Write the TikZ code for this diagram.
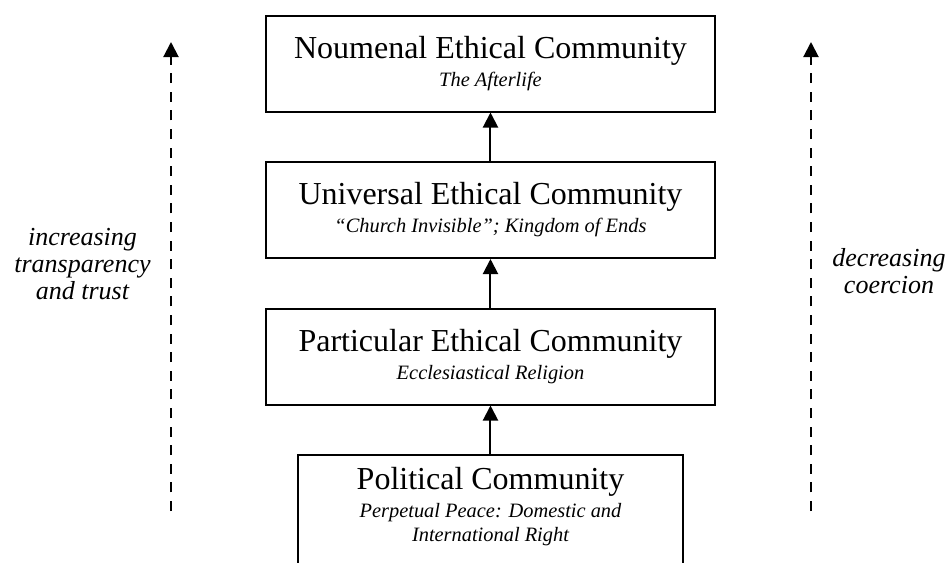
\documentclass[tikz,border=0pt]{standalone}
\usepackage{fontspec}
\setmainfont{Liberation Serif}
\usetikzlibrary{arrows.meta, positioning}

\newcommand{\stagename}[1]{{\fontsize{16}{14}\selectfont #1}}
\newcommand{\stagenote}[1]{{\fontsize{10.2}{12}\selectfont\itshape #1}}

\begin{document}
\begin{tikzpicture}[
    stage/.style={draw, line width=1pt, minimum width=224.5pt,
                  minimum height=48pt, align=center, inner sep=0pt,
                  font=\fontsize{16}{14}\selectfont},
    up/.style={-{Triangle[length=7.5pt, width=7.5pt]}, line width=1pt},
    trend/.style={-{Triangle[length=7.5pt, width=7.5pt]}, line width=1pt,
                  dash pattern=on 5pt off 4.3pt},
    side/.style={align=center, font=\fontsize{13}{13.5}\selectfont\itshape},
  ]
  \clip (-245.25pt, 31.75pt) rectangle (229.75pt, -249.75pt);

  \node[stage] (noumenal) at (0, 0)
    {\stagename{Noumenal Ethical Community}\\ \stagenote{The Afterlife}};
  \node[stage, below=24.25pt of noumenal] (universal)
    {\stagename{Universal Ethical Community}\\
     \stagenote{``Church Invisible''; Kingdom of Ends}};
  \node[stage, below=24.25pt of universal] (particular)
    {\stagename{Particular Ethical Community}\\
     \stagenote{Ecclesiastical Religion}};
  \node[stage, minimum width=192.5pt, minimum height=70pt,
        below=24pt of particular] (political) {};
  \node[align=center, inner sep=0pt, font=\fontsize{16}{14}\selectfont,
        below=6.5pt of political.north] (politicaltext)
    {\stagename{Political Community}\\
     \stagenote{Perpetual Peace: Domestic and}\\[-2pt]
     \stagenote{International Right}};

  \draw[up] (universal) -- (noumenal);
  \draw[up] (particular) -- (universal);
  \draw[up] (political) -- (particular);

  % trends at the sides
  \coordinate (leftlow) at (-159.75pt, -223.75pt);
  \coordinate (lefthigh) at (-159.75pt, 10.75pt);
  \coordinate (rightlow) at (160.25pt, -223.75pt);
  \coordinate (righthigh) at (160.25pt, 10.75pt);
  \draw[trend] (leftlow) -- (lefthigh);
  \draw[trend] (rightlow) -- (righthigh);

  \node[side] (trust) at (-204pt, -100.25pt)
    {increasing\\ transparency\\ and trust};
  \node[side] (coercion) at (199.25pt, -104pt)
    {decreasing\\ coercion};
\end{tikzpicture}
\end{document}
